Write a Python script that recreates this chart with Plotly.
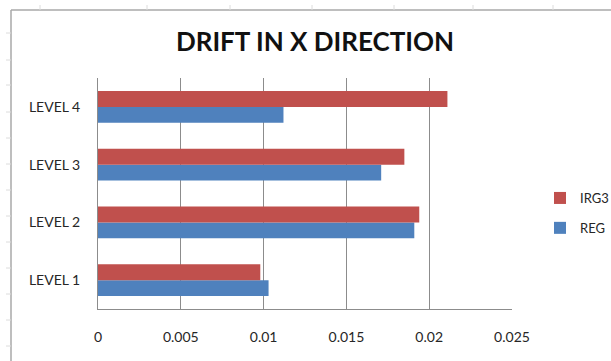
import plotly.graph_objects as go

# Storey drift values per level
levels = ["LEVEL 1", "LEVEL 2", "LEVEL 3", "LEVEL 4"]
reg = [0.0103, 0.0191, 0.0171, 0.0112]
irg3 = [0.0098, 0.0194, 0.0185, 0.0211]
x_ticks = [0, 0.005, 0.01, 0.015, 0.02, 0.025]
x_tick_text = ["0", "0.005", "0.01", "0.015", "0.02", "0.025"]

W, H = 611, 361
L, R, T, B = 98, 99, 78, 52
pw, ph = W - L - R, H - T - B

def px(x):
    return (x - L) / pw

def py(y):
    return (H - B - y) / ph

FONT = "Lato"
BLUE = "#4F81BD"
RED = "#C0504D"
GRID = "#8c8c8c"

fig = go.Figure()
fig.add_trace(go.Bar(y=levels, x=reg, orientation="h", name="REG", legendrank=2,
                     marker=dict(color=BLUE, line=dict(width=0)), legendgroup="reg"))
fig.add_trace(go.Bar(y=levels, x=irg3, orientation="h", name="IRG3", legendrank=1,
                     marker=dict(color=RED, line=dict(width=0)), legendgroup="irg3"))

# outer chart frame (left and top edges) with faint sheet tick marks
shapes = [
    dict(type="line", xref="paper", yref="paper", x0=px(11), x1=px(W + 5), y0=py(10), y1=py(10),
         line=dict(color="#a8a8a8", width=1.5)),
    dict(type="line", xref="paper", yref="paper", x0=px(11), x1=px(11), y0=py(10), y1=py(H + 5),
         line=dict(color="#a8a8a8", width=1.5)),
]
for yy in [33, 60, 85, 112, 138, 164, 190, 216, 242, 268, 294, 320, 346]:
    shapes.append(dict(type="line", xref="paper", yref="paper", x0=px(6), x1=px(11),
                       y0=py(yy), y1=py(yy), line=dict(color="#dcdcdc", width=1)))
for xx in [40, 147, 230, 312, 394, 473, 553]:
    shapes.append(dict(type="line", xref="paper", yref="paper", x0=px(xx), x1=px(xx),
                       y0=py(5), y1=py(10), line=dict(color="#dcdcdc", width=1)))

fig.update_layout(
    width=W, height=H,
    margin=dict(l=L, r=R, t=T, b=B, autoexpand=False),
    paper_bgcolor="white", plot_bgcolor="white",
    barmode="group", bargap=0.45, bargroupgap=0,
    font=dict(family=FONT, color="#262626", size=14),
    title=dict(text="<b>DRIFT IN X DIRECTION</b>", x=315 / W, xanchor="center",
               y=1 - 42 / H, yanchor="middle", yref="container",
               font=dict(family=FONT, size=26, color="#111111")),
    legend=dict(x=px(540), y=py(213), xanchor="left", yanchor="middle",
                traceorder="grouped", tracegroupgap=10,
                font=dict(family=FONT, size=13, color="#262626"),
                bgcolor="rgba(0,0,0,0)", itemwidth=30),
    shapes=shapes,
    showlegend=True,
)
fig.update_xaxes(range=[0, 0.025], tickvals=x_ticks, ticktext=x_tick_text, automargin=False,
                 showgrid=True, gridcolor=GRID, gridwidth=1, zeroline=False,
                 showline=True, linecolor=GRID, linewidth=1, ticks="",
                 ticklabelstandoff=15, tickfont=dict(family=FONT, size=14, color="#262626"))
fig.update_yaxes(categoryorder="array", categoryarray=levels, automargin=False,
                 showgrid=False, zeroline=False, showline=True, linecolor=GRID, linewidth=1,
                 ticks="", ticklabelstandoff=14, tickfont=dict(family=FONT, size=14, color="#262626"))

fig.write_html("out.html")
